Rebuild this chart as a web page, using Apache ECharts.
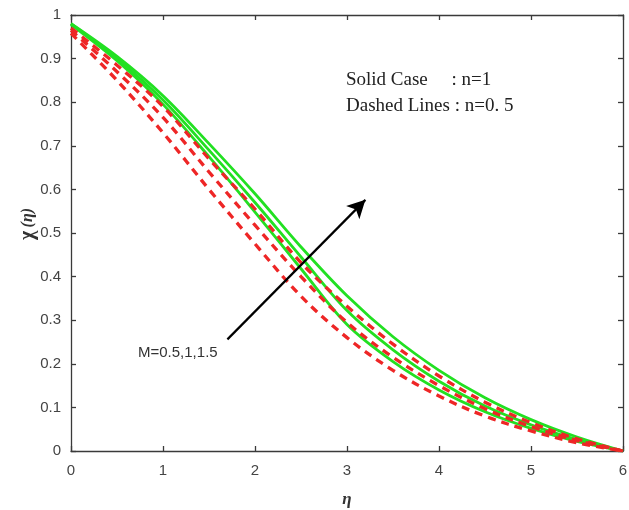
<!DOCTYPE html>
<html><head><meta charset="utf-8">
<script src="https://cdn.jsdelivr.net/npm/echarts@6/dist/echarts.min.js"></script>
<style>html,body{margin:0;padding:0;background:#fff}#c{width:629px;height:510px}</style>
</head><body><div id="c"></div>
<script>
// eta grid
var eta = [0, 0.5, 1, 1.5, 2, 2.5, 3, 3.5, 4, 4.5, 5, 5.5, 6];
// Solid lines, n=1 (M = 0.5, 1, 1.5)
var solidM05 = [0.978, 0.895, 0.795, 0.675, 0.548, 0.418, 0.290, 0.205, 0.140, 0.090, 0.052, 0.022, 0.0];
var solidM10 = [0.980, 0.900, 0.805, 0.690, 0.570, 0.445, 0.322, 0.232, 0.160, 0.103, 0.060, 0.026, 0.0];
var solidM15 = [0.980, 0.905, 0.815, 0.705, 0.590, 0.468, 0.356, 0.262, 0.185, 0.122, 0.072, 0.032, 0.0];
// Dashed lines, n=0.5 (M = 0.5, 1, 1.5)
var dashM05 = [0.958, 0.850, 0.730, 0.600, 0.475, 0.355, 0.260, 0.185, 0.126, 0.080, 0.046, 0.019, 0.0];
var dashM10 = [0.965, 0.870, 0.765, 0.640, 0.518, 0.400, 0.295, 0.215, 0.150, 0.097, 0.056, 0.024, 0.0];
var dashM15 = [0.970, 0.885, 0.790, 0.670, 0.555, 0.432, 0.332, 0.245, 0.172, 0.112, 0.065, 0.028, 0.0];
// arrow (data coords): start -> end
var arrowStart = [1.70, 0.256];
var arrowEnd = [3.20, 0.576];
var xTicks = [0, 1, 2, 3, 4, 5, 6];
var yTicks = [0, 0.1, 0.2, 0.3, 0.4, 0.5, 0.6, 0.7, 0.8, 0.9, 1];

function pairs(v){ return eta.map(function(x,i){ return [x, v[i]]; }); }

var GREEN = '#22e022', RED = '#ee2626';
var axisLine = {show:true, onZero:false, lineStyle:{color:'#3a3a3a', width:1.3}};
var tickIn = {show:true, inside:true, length:5, lineStyle:{color:'#3a3a3a', width:1.3}};
var labelStyle = {color:'#444', fontFamily:'Liberation Sans, Arial, sans-serif', fontSize:15};

function solid(v){ return {type:'line', data:pairs(v), smooth:0.35, symbol:'none', lineStyle:{color:GREEN, width:2.8}, z:3}; }
function dashed(v){ return {type:'line', data:pairs(v), smooth:0.35, symbol:'none', lineStyle:{color:RED, width:3.3, type:[8,6]}, z:4}; }

var series = [solid(solidM05), solid(solidM10), solid(solidM15), dashed(dashM05), dashed(dashM10), dashed(dashM15)];
series.push({
  type:'line', data:[], silent:true,
  markLine:{
    silent:true, symbol:['none','arrow'], symbolSize:[14,18],
    label:{show:false},
    lineStyle:{color:'#000', width:2.2, type:'solid'},
    data:[[{coord:arrowStart},{coord:arrowEnd}]]
  }
});

var chart = echarts.init(document.getElementById('c'));
chart.setOption({
  animation:false,
  backgroundColor:'#fff',
  grid:{left:71, top:15, right:6, bottom:59, outerBoundsMode:'none', containLabel:false},
  xAxis:[
    {type:'value', min:0, max:6, interval:1, axisLine:axisLine, axisTick:tickIn, splitLine:{show:false},
     axisLabel:Object.assign({margin:12}, labelStyle),
     name:'η', nameLocation:'middle', nameGap:40,
     nameTextStyle:{fontFamily:'Liberation Serif, Times New Roman, serif', fontStyle:'italic', fontWeight:'bold', fontSize:17, color:'#333'}},
    {type:'value', position:'top', min:0, max:6, interval:1, axisLine:axisLine, axisTick:tickIn, axisLabel:{show:false}, splitLine:{show:false}}
  ],
  yAxis:[
    {type:'value', min:0, max:1, interval:0.1, axisLine:axisLine, axisTick:tickIn, splitLine:{show:false},
     axisLabel:Object.assign({margin:10}, labelStyle)},
    {type:'value', position:'right', min:0, max:1, interval:0.1, axisLine:axisLine, axisTick:tickIn, axisLabel:{show:false}, splitLine:{show:false}}
  ],
  series:series,
  graphic:[
    {type:'text', left:346, top:71, style:{text:'Solid Case     : n=1', font:'19px "Liberation Serif", "Times New Roman", serif', fill:'#222'}},
    {type:'text', left:346, top:97, style:{text:'Dashed Lines : n=0. 5', font:'19px "Liberation Serif", "Times New Roman", serif', fill:'#222'}},
    {type:'text', left:138, top:345, style:{text:'M=0.5,1,1.5', font:'15px "Liberation Sans", Arial, sans-serif', fill:'#333'}},
    {type:'text', x:28, y:224, rotation:Math.PI/2, style:{
      text:'{a|χ} {b|(η)}', align:'center', verticalAlign:'middle',
      rich:{a:{font:'bold 20px "Liberation Serif", serif', fill:'#333'}, b:{font:'italic bold 16px "Liberation Serif", serif', fill:'#333'}}
    }}
  ]
});
</script></body></html>
